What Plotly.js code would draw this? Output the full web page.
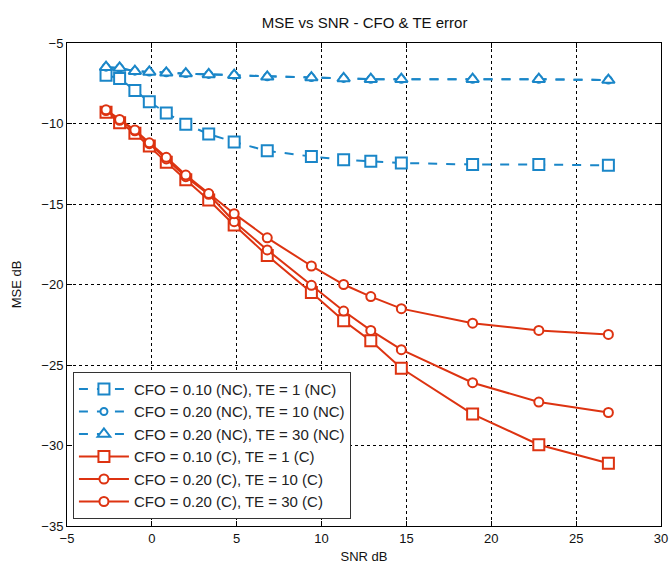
<!DOCTYPE html>
<html>
<head>
<meta charset="utf-8">
<script src="https://cdn.plot.ly/plotly-3.0.1.min.js"></script>
<style>html,body{margin:0;padding:0;background:#fff;}#chart{width:669px;height:564px;}</style>
</head>
<body>
<div id="chart"></div>
<script>
const snr = [-2.7, -1.9, -1.0, -0.15, 0.85, 2.0, 3.35, 4.85, 6.8, 9.4, 11.3, 12.9, 14.7, 18.9, 22.8, 26.9];

const ncCfo010Te1  = [-7.0, -7.2, -7.95, -8.65, -9.35, -10.05, -10.65, -11.15, -11.7, -12.05, -12.25, -12.35, -12.45, -12.55, -12.55, -12.6];
const ncCfo020Te10 = [-6.5, -6.55, -6.75, -6.8, -6.85, -6.9, -6.95, -7.0, -7.1, -7.15, -7.2, -7.25, -7.25, -7.25, -7.25, -7.3];
const ncCfo020Te30 = [-6.5, -6.55, -6.75, -6.8, -6.85, -6.9, -6.95, -7.0, -7.1, -7.15, -7.2, -7.25, -7.25, -7.25, -7.25, -7.3];

const cCfo010Te1  = [-9.3, -9.95, -10.6, -11.4, -12.4, -13.5, -14.75, -16.3, -18.2, -20.5, -22.25, -23.5, -25.2, -28.05, -29.95, -31.1];
const cCfo020Te10 = [-9.2, -9.8, -10.45, -11.25, -12.2, -13.3, -14.4, -16.1, -17.85, -20.05, -21.65, -22.85, -24.05, -26.1, -27.3, -27.95];
const cCfo020Te30 = [-9.15, -9.75, -10.4, -11.2, -12.1, -13.2, -14.35, -15.6, -17.1, -18.85, -20.0, -20.75, -21.5, -22.4, -22.85, -23.1];

const names = [
  'CFO = 0.10 (NC), TE = 1 (NC)',
  'CFO = 0.20 (NC), TE = 10 (NC)',
  'CFO = 0.20 (NC), TE = 30 (NC)',
  'CFO = 0.10 (C), TE = 1 (C)',
  'CFO = 0.20 (C), TE = 10 (C)',
  'CFO = 0.20 (C), TE = 30 (C)'
];

const BLUE = '#1a86c8';
const RED = '#dd3311';

function tr(y, name, color, dash, symbol, size) {
  return {
    x: snr, y: y, name: name, type: 'scatter', mode: 'lines+markers',
    line: {color: color, width: 2, dash: dash},
    marker: {symbol: symbol, size: size, color: '#ffffff', line: {color: color, width: 2}}
  };
}

const data = [
  tr(ncCfo010Te1, names[0], BLUE, 'dash', 'square', 11),
  tr(ncCfo020Te10, names[1], BLUE, 'dash', 'circle', 7),
  tr(ncCfo020Te30, names[2], BLUE, 'dash', 'triangle-up', 11),
  tr(cCfo010Te1, names[3], RED, 'solid', 'square', 11),
  tr(cCfo020Te10, names[4], RED, 'solid', 'circle', 9),
  tr(cCfo020Te30, names[5], RED, 'solid', 'circle', 9)
];

const axisCommon = {
  showline: true, linecolor: '#000', linewidth: 1, mirror: 'ticks',
  ticks: 'inside', ticklen: 5, tickcolor: '#000',
  showgrid: true, gridcolor: '#000', griddash: 'dot', gridwidth: 1,
  zeroline: false,
  tickfont: {family: 'Liberation Sans, Arial, sans-serif', size: 13, color: '#111'}
};

const layout = {
  width: 669, height: 564,
  margin: {l: 67, r: 8, t: 43, b: 38},
  paper_bgcolor: '#fff', plot_bgcolor: '#fff',
  font: {family: 'Liberation Sans, Arial, sans-serif', color: '#000'},
  title: {text: 'MSE vs SNR - CFO & TE error', font: {size: 15, color: '#111'}, x: 0.545, xanchor: 'center', y: 0.96, yanchor: 'middle'},
  xaxis: Object.assign({}, axisCommon, {
    range: [-5, 30], tickvals: [-5, 0, 5, 10, 15, 20, 25, 30],
    title: {text: 'SNR dB', font: {size: 13, color: '#111'}, standoff: 14}
  }),
  yaxis: Object.assign({}, axisCommon, {
    range: [-35, -5], tickvals: [-35, -30, -25, -20, -15, -10, -5],
    title: {text: 'MSE dB', font: {size: 13, color: '#111'}, standoff: 16}
  }),
  legend: {
    x: 0.01, y: 0.015, xanchor: 'left', yanchor: 'bottom',
    bgcolor: '#fff', bordercolor: '#333', borderwidth: 1,
    font: {size: 15, color: '#222'}, tracegroupgap: 0, itemwidth: 50
  },
  showlegend: true
};

Plotly.newPlot('chart', data, layout, {displayModeBar: false, staticPlot: true});
</script>
</body>
</html>
